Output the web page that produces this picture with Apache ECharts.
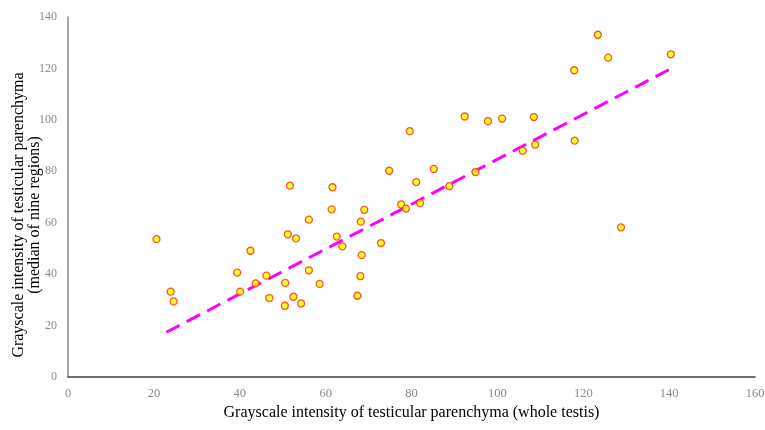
<!DOCTYPE html>
<html>
<head>
<meta charset="utf-8">
<script src="https://cdn.jsdelivr.net/npm/echarts@6/dist/echarts.min.js"></script>
<style>html,body{margin:0;padding:0;background:#fff;}#c{width:765px;height:430px;}</style>
</head>
<body>
<div id="c"></div>
<script>
// Whole-testis grayscale intensity (x) and median of nine regions (y)
const xValues = [20.6,23.9,24.6,39.4,40.1,42.5,43.7,46.2,46.9,50.6,50.5,51.2,51.7,53.1,52.5,54.3,56.1,56.1,58.6,61.4,61.6,62.6,63.9,67.4,68.1,68.4,68.2,69.0,72.9,74.8,79.6,77.6,78.7,82.0,81.1,85.2,88.8,92.4,94.9,97.8,101.1,105.9,108.5,108.8,117.9,118.0,123.4,125.8,128.8,140.4];
const yValues = [53.6,33.2,29.4,40.6,33.2,49.1,36.4,39.4,30.7,36.6,27.7,55.5,74.4,53.9,31.2,28.6,61.2,41.5,36.2,65.2,73.8,54.6,50.8,31.6,39.2,47.4,60.4,65.0,52.1,80.2,95.6,67.1,65.5,67.6,75.8,80.9,74.2,101.3,79.7,99.5,100.5,88.0,101.1,90.4,119.3,91.9,133.1,124.2,58.2,125.5];
// Linear trendline endpoints
const trendX = [22.9, 140.4];
const trendY = [17.4, 119.9];
const xTicks = [0,20,40,60,80,100,120,140,160];
const yTicks = [0,20,40,60,80,100,120,140];

const scatterData = xValues.map((x,i)=>[x,yValues[i]]);
const trendData = trendX.map((x,i)=>[x,trendY[i]]);
const serif = '"Liberation Serif","DejaVu Serif",serif';

const chart = echarts.init(document.getElementById('c'));
chart.setOption({
  animation:false,
  backgroundColor:'#fff',
  grid:{left:68,right:10,top:17,bottom:53,containLabel:false,outerBoundsMode:'none'},
  xAxis:{
    type:'value', min:xTicks[0], max:xTicks[xTicks.length-1], interval:20,
    splitLine:{show:false},
    axisTick:{show:false},
    axisLine:{show:true,lineStyle:{color:'#404040',width:1.5}},
    axisLabel:{color:'#8a8a8a',fontFamily:serif,fontSize:12.5,margin:10},
    name:'Grayscale intensity of testicular parenchyma (whole testis)',
    nameLocation:'middle', nameGap:28, nameMoveOverlap:false,
    nameTextStyle:{color:'#000',fontFamily:serif,fontSize:16}
  },
  yAxis:{
    type:'value', min:yTicks[0], max:yTicks[yTicks.length-1], interval:20,
    splitLine:{show:false},
    axisTick:{show:false},
    axisLine:{show:true,lineStyle:{color:'#8a8a8a',width:1.5}},
    axisLabel:{color:'#8a8a8a',fontFamily:serif,fontSize:12,margin:11},
    name:'Grayscale intensity of testicular parenchyma\n(median of nine regions)',
    nameLocation:'middle', nameGap:25, nameMoveOverlap:false,
    nameTextStyle:{color:'#000',fontFamily:serif,fontSize:16,lineHeight:16,padding:[0,36,0,0]}
  },
  series:[
    {
      type:'line', data:trendData, symbol:'none', z:1,
      lineStyle:{color:'#ff00ff',width:3,type:[15,8]}
    },
    {
      type:'scatter', data:scatterData, symbol:'circle', symbolSize:7, z:2,
      itemStyle:{color:'#ffff00',borderColor:'#ff2a00',borderWidth:1.3}
    }
  ]
});
</script>
</body>
</html>
